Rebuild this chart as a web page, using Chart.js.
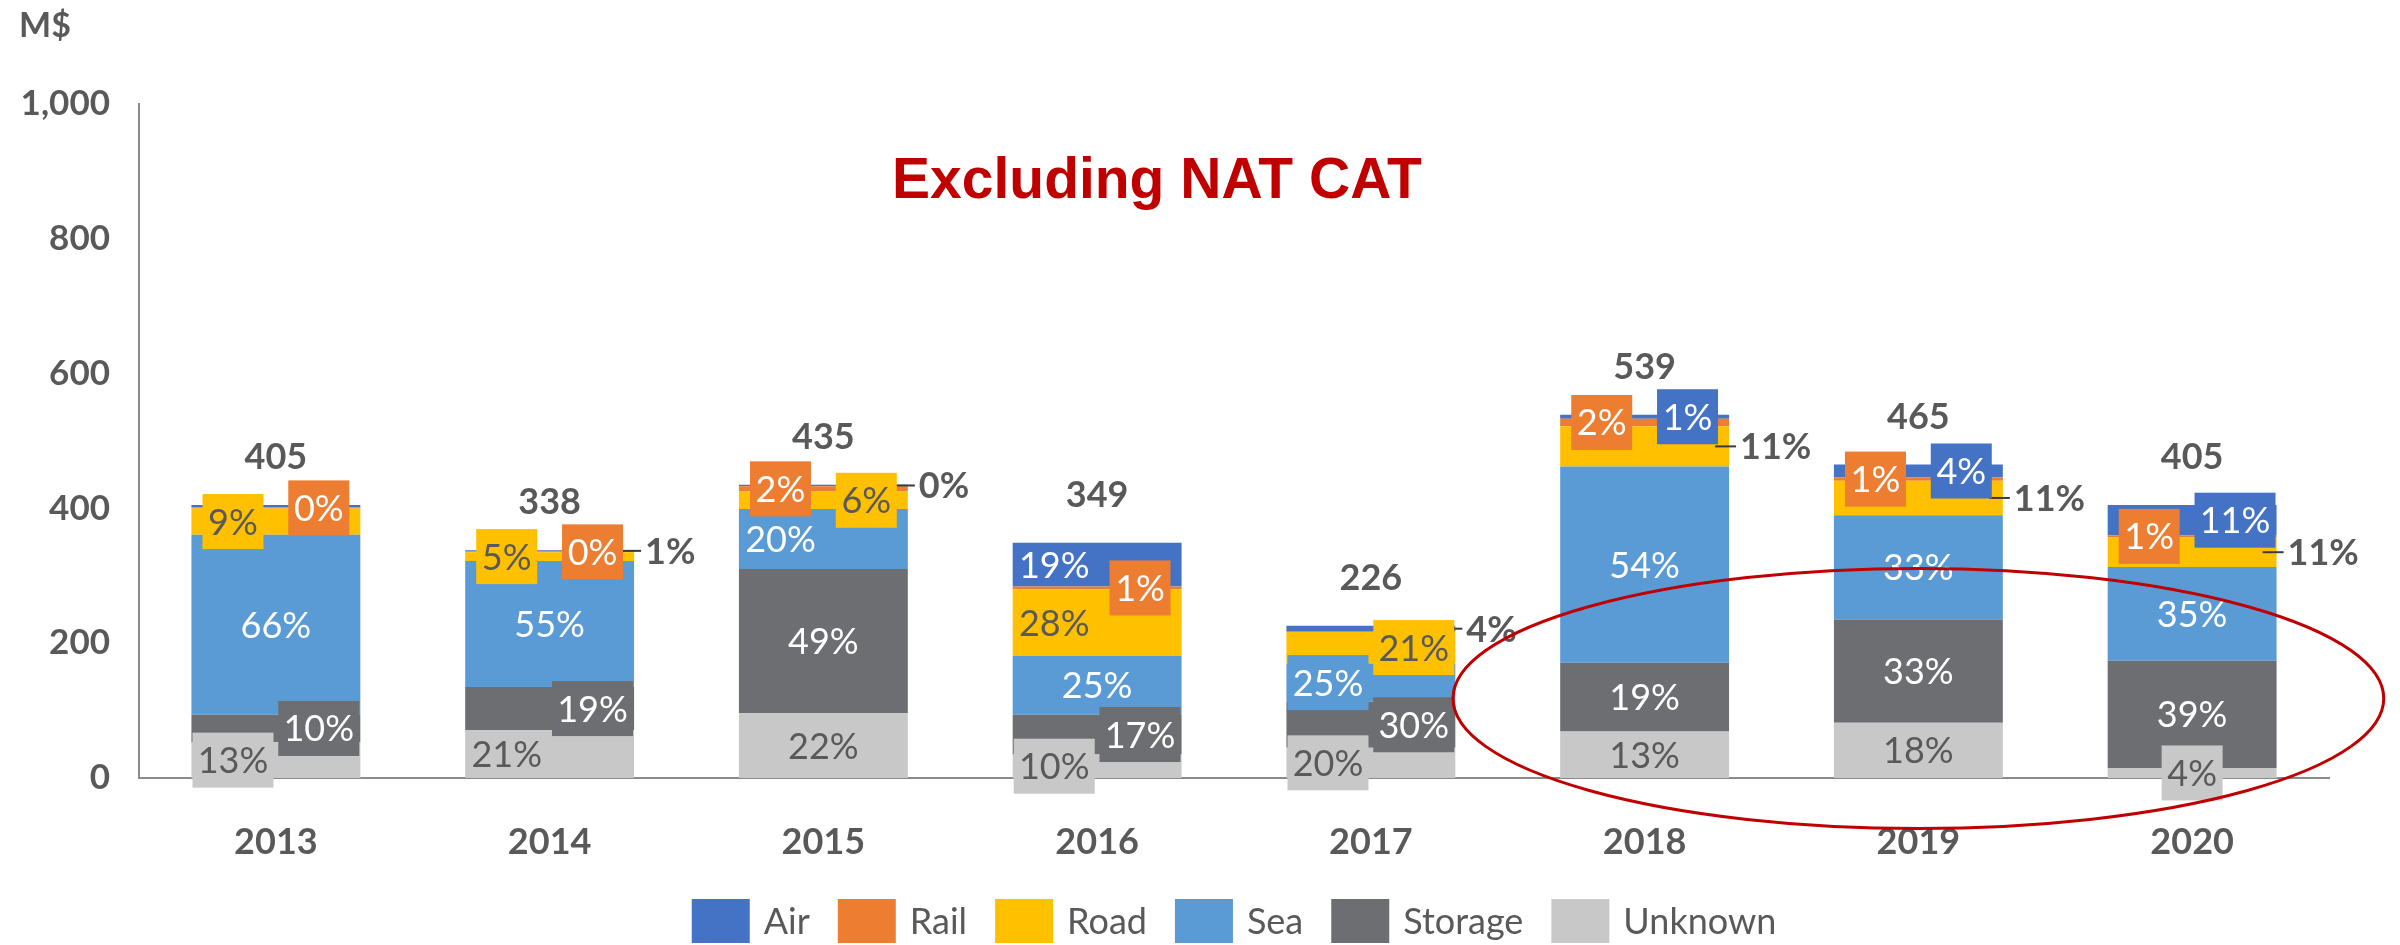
<!DOCTYPE html>
<html>
<head>
<meta charset="utf-8">
<script src="https://cdn.jsdelivr.net/npm/chart.js@4.4.1/dist/chart.umd.min.js"></script>
<style>
html,body{margin:0;padding:0;background:#ffffff;}
#wrap{width:2400px;height:945px;position:relative;}
canvas{display:block;}
</style>
</head>
<body>
<div id="wrap"><canvas id="c" width="2400" height="945"></canvas></div>
<script>
// ---------- data (M$) ----------
const years = ['2013','2014','2015','2016','2017','2018','2019','2020'];
const unknownVals = [53, 71, 96, 35, 45, 69, 82, 15];
const storageVals = [41, 64, 214, 59, 68, 102, 153, 159];
const seaVals     = [267, 187, 89, 87, 57, 291, 155, 139];
const roadVals    = [39, 13, 26, 99, 47, 60, 51, 44];
const railVals    = [1.5, 1, 8, 4, 0, 11, 5, 3];
const airVals     = [3.5, 2, 2, 65, 9, 6, 19, 45];

// percentage labels as printed on the chart
const unknownPct = ['13%','21%','22%','10%','20%','13%','18%','4%'];
const storagePct = ['10%','19%','49%','17%','30%','19%','33%','39%'];
const seaPct     = ['66%','55%','20%','25%','25%','54%','33%','35%'];
const roadPct    = ['9%','5%','6%','28%','21%','11%','11%','11%'];
const railPct    = ['0%','0%','2%','1%','','2%','1%','1%'];
const airPct     = ['','1%','0%','19%','4%','1%','4%','11%'];

const yTicks = [0, 200, 400, 600, 800, 1000];
const titleText = 'Excluding NAT CAT';
const unitText = 'M$';

// ---------- label layout (c=center, l/r=shifted text, L/R=shifted box, B=centered box, O=outside) ----------
const unknownPlace = ['L','l','c','L','L','c','c','B'];
const storagePlace = ['R','R','c','R','R','c','c','c'];
const seaPlace     = ['c','c','l','c','L','c','c','c'];
const roadPlace    = ['L','L','R','l','R','O','O','O'];
const railPlace    = ['R','R','L','R','','L','L','L'];
const airPlace     = ['','O','O','l','O','R','R','R'];

const TXT = '#595959';
const series = [
  {label:'Unknown', data: unknownVals, color:'#C8C8C8', pct: unknownPct, place: unknownPlace, txt: TXT},
  {label:'Storage', data: storageVals, color:'#6D6E71', pct: storagePct, place: storagePlace, txt: '#FFFFFF'},
  {label:'Sea',     data: seaVals,     color:'#5B9BD5', pct: seaPct,     place: seaPlace,     txt: '#FFFFFF'},
  {label:'Road',    data: roadVals,    color:'#FFC000', pct: roadPct,    place: roadPlace,    txt: TXT},
  {label:'Rail',    data: railVals,    color:'#ED7D31', pct: railPct,    place: railPlace,    txt: '#FFFFFF'},
  {label:'Air',     data: airVals,     color:'#4472C4', pct: airPct,     place: airPlace,     txt: '#FFFFFF'}
];

const LFONT = 'Lato, "Noto Sans", sans-serif';

const overlayPlugin = {
  id: 'overlay',
  afterDatasetsDraw(chart) {
    const ctx = chart.ctx;
    ctx.save();
    // outside labels with leader lines
    series.forEach((s, di) => {
      const meta = chart.getDatasetMeta(di);
      meta.data.forEach((bar, i) => {
        if (s.place[i] !== 'O' || !s.pct[i]) return;
        const p = bar.getProps(['x','y','base','width'], true);
        const cy = (p.y + p.base) / 2;
        const right = p.x + p.width / 2;
        ctx.strokeStyle = '#3A3A3A';
        ctx.lineWidth = 2;
        ctx.beginPath();
        ctx.moveTo(right - 14, cy);
        ctx.lineTo(right + 7, cy);
        ctx.stroke();
        ctx.fillStyle = TXT;
        ctx.font = 'bold 36px ' + LFONT;
        ctx.textAlign = 'left';
        ctx.textBaseline = 'alphabetic';
        ctx.fillText(s.pct[i], right + 11, cy + 13);
      });
    });
    // in-bar labels
    series.forEach((s, di) => {
      const meta = chart.getDatasetMeta(di);
      meta.data.forEach((bar, i) => {
        const pl = s.place[i];
        const txt = s.pct[i];
        if (!pl || !txt || pl === 'O') return;
        const p = bar.getProps(['x','y','base','width'], true);
        const cy = (p.y + p.base) / 2;
        let cx = p.x;
        const shift = 0.254 * p.width;
        if (pl === 'L' || pl === 'l') cx -= shift;
        if (pl === 'R' || pl === 'r') cx += shift;
        if (pl === 'L' || pl === 'R' || pl === 'B') {
          const w = 21 + 20 * txt.length, h = 55;
          ctx.fillStyle = s.color;
          ctx.fillRect(cx - w / 2, cy - h / 2, w, h);
        }
        ctx.fillStyle = s.txt;
        ctx.font = '36px ' + LFONT;
        ctx.textAlign = 'center';
        ctx.textBaseline = 'alphabetic';
        ctx.fillText(txt, cx, cy + 13);
      });
    });
    // totals above bars
    const topMeta = chart.getDatasetMeta(series.length - 1);
    topMeta.data.forEach((bar, i) => {
      let tot = 0;
      series.forEach(s => { tot += s.data[i]; });
      const p = bar.getProps(['x','y'], true);
      ctx.fillStyle = TXT;
      ctx.font = 'bold 36px ' + LFONT;
      ctx.textAlign = 'center';
      ctx.textBaseline = 'alphabetic';
      ctx.fillText(String(Math.round(tot)), p.x, p.y - 36);
    });
    ctx.restore();
  },
  afterDraw(chart) {
    const ctx = chart.ctx;
    const xs = chart.scales.x, ys = chart.scales.y;
    ctx.save();
    // unit label
    ctx.fillStyle = TXT;
    ctx.font = 'bold 34px ' + LFONT;
    ctx.textAlign = 'left';
    ctx.textBaseline = 'alphabetic';
    ctx.fillText(unitText, 19, 37);
    // title
    ctx.fillStyle = '#C00000';
    ctx.font = 'bold 57px "Liberation Sans", Arial, sans-serif';
    ctx.textAlign = 'center';
    ctx.fillText(titleText, 1157, 198);
    // red ellipse around 2018-2020
    const catW = xs.width / years.length;
    const ecx = xs.getPixelForValue(6);
    const ecy = ys.getPixelForValue(118);
    const erx = 1.70 * catW;
    const ery = ys.getPixelForValue(0) - ys.getPixelForValue(193);
    ctx.strokeStyle = '#C00000';
    ctx.lineWidth = 3;
    ctx.beginPath();
    ctx.ellipse(ecx, ecy, erx, ery, 0, 0, Math.PI * 2);
    ctx.stroke();
    // legend (Air ... Unknown)
    ctx.font = '36px ' + LFONT;
    const items = series.slice().reverse();
    const boxW = 58, boxH = 44, gap = 14, spacing = 28;
    let total = 0;
    items.forEach((it, k) => {
      total += boxW + gap + ctx.measureText(it.label).width + (k < items.length - 1 ? spacing : 0);
    });
    let lx = (chart.chartArea.left + chart.chartArea.right) / 2 - total / 2;
    const lcy = 921;
    items.forEach(it => {
      ctx.fillStyle = it.color;
      ctx.fillRect(lx, lcy - boxH / 2, boxW, boxH);
      lx += boxW + gap;
      ctx.fillStyle = TXT;
      ctx.textAlign = 'left';
      ctx.fillText(it.label, lx, lcy + 13);
      lx += ctx.measureText(it.label).width + spacing;
    });
    ctx.restore();
  }
};

const chart = new Chart(document.getElementById('c'), {
  type: 'bar',
  data: {
    labels: years,
    datasets: series.map(s => ({
      label: s.label,
      data: s.data,
      backgroundColor: s.color,
      borderWidth: 0,
      barPercentage: 0.617,
      categoryPercentage: 1.0
    }))
  },
  options: {
    responsive: false,
    devicePixelRatio: 1,
    animation: false,
    layout: { padding: { top: 104, right: 71, left: 0, bottom: 0 } },
    plugins: {
      legend: { display: false },
      tooltip: { enabled: false },
      title: { display: false }
    },
    scales: {
      x: {
        stacked: true,
        grid: { display: false, drawTicks: false },
        border: { display: true, color: '#8A8A8A', width: 2 },
        ticks: { color: TXT, font: { family: LFONT, size: 36, weight: 'bold' }, padding: 43, maxRotation: 0 },
        afterFit: s => { s.height = 167; }
      },
      y: {
        stacked: true,
        min: 0,
        max: 1000,
        afterBuildTicks: s => { s.ticks = yTicks.map(v => ({ value: v })); },
        grid: { display: false, drawTicks: false },
        border: { display: true, color: '#8A8A8A', width: 2 },
        ticks: {
          color: TXT,
          font: { family: LFONT, size: 35, weight: 'bold' },
          padding: 29,
          callback: v => Number(v).toLocaleString('en-US')
        },
        afterFit: s => { s.width = 139; }
      }
    }
  },
  plugins: [overlayPlugin]
});
</script>
</body>
</html>
